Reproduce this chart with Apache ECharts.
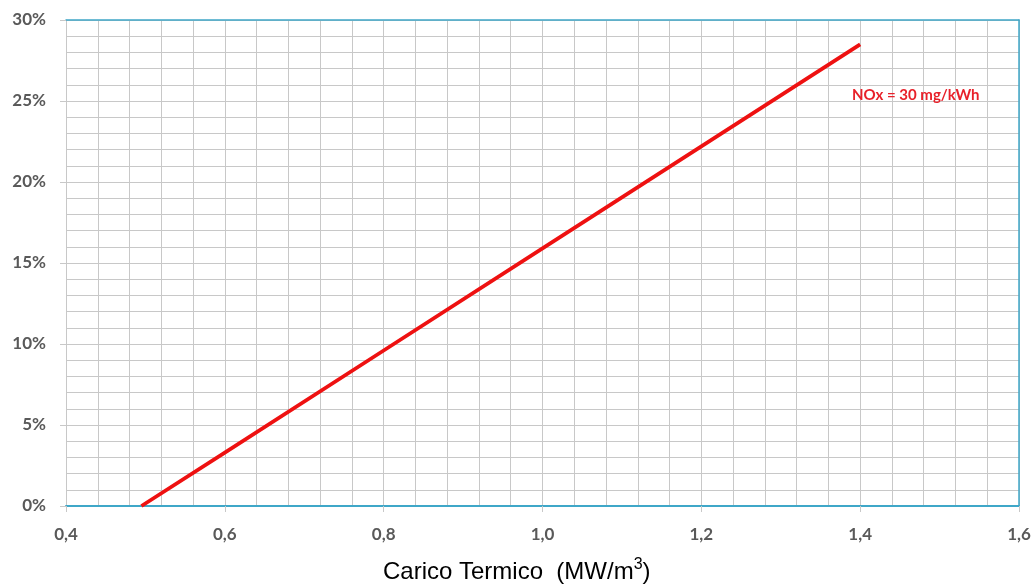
<!DOCTYPE html>
<html><head><meta charset="utf-8">
<script src="https://cdn.jsdelivr.net/npm/echarts@6/dist/echarts.min.js"></script>
<style>html,body{margin:0;padding:0;background:#fff}#c{width:1035px;height:586px}</style>
</head><body><div id="c"></div>
<script>
// Data
const cargoTermico = [0.495, 0.6, 0.8, 1.0, 1.2, 1.4];      // MW/m3
const percentValues = [0, 3.3, 9.6, 15.9, 22.2, 28.5];       // %
const xTicks = [0.4, 0.6, 0.8, 1.0, 1.2, 1.4, 1.6];
const yTicks = [0, 5, 10, 15, 20, 25, 30];
const seriesLabel = 'NOx = 30 mg/kWh';
const xTitle = 'Carico Termico  (MW/m';

const chart = echarts.init(document.getElementById('c'));
const lineData = cargoTermico.map((x, i) => [x, percentValues[i]]);
const gridColor = '#c8c8c8';
const blue = '#3fa7c8';
const labelFont = {color: '#595959', fontFamily: 'Lato', fontWeight: 'bold', fontSize: 17};

chart.setOption({
  animation: false,
  grid: {left: 66, right: 16, top: 20, bottom: 80},
  xAxis: [{
    type: 'value', min: xTicks[0], max: xTicks[xTicks.length - 1], interval: 0.2,
    axisLine: {show: true, onZero: false, lineStyle: {color: blue, width: 2}},
    axisTick: {show: true, length: 6, lineStyle: {color: gridColor}},
    axisLabel: Object.assign({margin: 20, formatter: v => v.toFixed(1).replace('.', ',')}, labelFont),
    splitLine: {show: true, lineStyle: {color: gridColor, width: 1}},
    minorTick: {show: false, splitNumber: 5},
    minorSplitLine: {show: true, lineStyle: {color: gridColor, width: 1}}
  }, {
    type: 'value', position: 'top', min: xTicks[0], max: xTicks[xTicks.length - 1], interval: 0.2,
    axisLine: {show: true, onZero: false, lineStyle: {color: blue, width: 1.5}},
    axisTick: {show: false}, axisLabel: {show: false}, splitLine: {show: false}
  }],
  yAxis: [{
    type: 'value', min: yTicks[0], max: yTicks[yTicks.length - 1], interval: 5,
    axisLine: {show: true, lineStyle: {color: gridColor}},
    axisTick: {show: true, length: 6, lineStyle: {color: gridColor}},
    axisLabel: Object.assign({margin: 20, formatter: v => v + '%'}, labelFont),
    splitLine: {show: true, lineStyle: {color: gridColor, width: 1}},
    minorTick: {show: false, splitNumber: 5},
    minorSplitLine: {show: true, lineStyle: {color: gridColor, width: 1}}
  }, {
    type: 'value', position: 'right', min: yTicks[0], max: yTicks[yTicks.length - 1], interval: 5,
    axisLine: {show: true, lineStyle: {color: blue, width: 1.5}},
    axisTick: {show: false}, axisLabel: {show: false}, splitLine: {show: false}
  }],
  series: [{
    type: 'line', data: lineData, showSymbol: false, symbol: 'none',
    lineStyle: {color: '#ee1111', width: 3.8}, z: 5
  }],
  graphic: [{
    type: 'text', left: 852, top: 88, z: 10,
    style: {text: seriesLabel, fill: '#e8212a', font: 'bold 15px Lato'}
  }, {
    type: 'text', left: 383, top: 557, z: 10,
    style: {
      text: '{t|' + xTitle + '}{s|3}{t|)}',
      rich: {
        t: {fontFamily: 'Liberation Sans', fontSize: 24, fill: '#000', color: '#000'},
        s: {fontFamily: 'Liberation Sans', fontSize: 16, color: '#000', fill: '#000', padding: [0, 0, 14, 0]}
      }
    }
  }]
});
</script></body></html>
